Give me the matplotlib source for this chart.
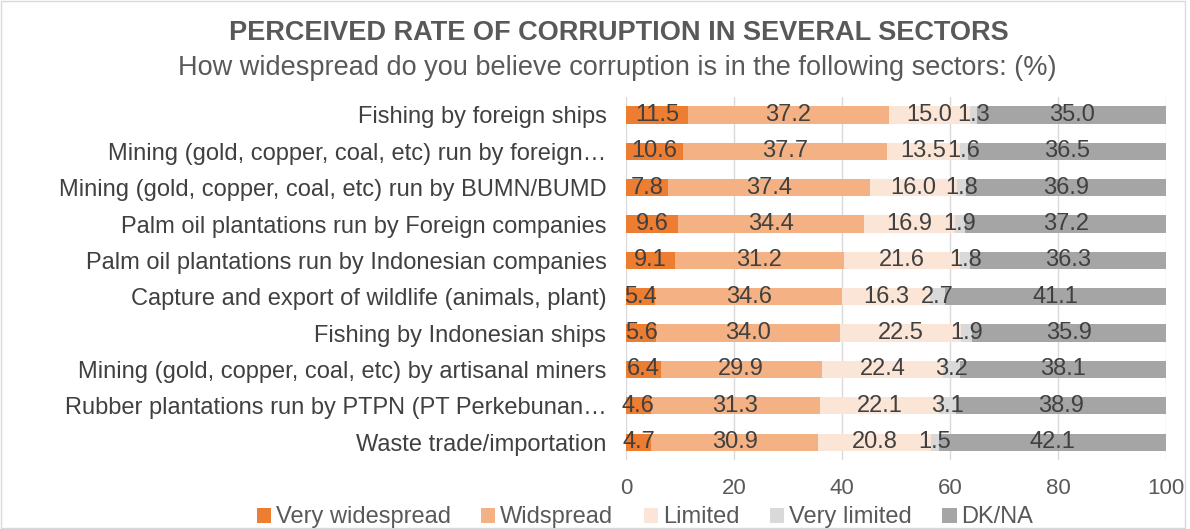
import numpy as np
import matplotlib.pyplot as plt
from matplotlib.patches import Rectangle

plt.rcParams['font.family'] = ['Liberation Sans', 'DejaVu Sans']

sectors = [
    'Fishing by foreign ships',
    'Mining (gold, copper, coal, etc) run by foreign\u2026',
    'Mining (gold, copper, coal, etc) run by BUMN/BUMD',
    'Palm oil plantations run by Foreign companies',
    'Palm oil plantations run by Indonesian companies',
    'Capture and export of wildlife (animals, plant)',
    'Fishing by Indonesian ships',
    'Mining (gold, copper, coal, etc) by artisanal miners',
    'Rubber plantations run by PTPN (PT Perkebunan\u2026',
    'Waste trade/importation',
]
very_widespread = [11.5, 10.6, 7.8, 9.6, 9.1, 5.4, 5.6, 6.4, 4.6, 4.7]
widspread = [37.2, 37.7, 37.4, 34.4, 31.2, 34.6, 34.0, 29.9, 31.3, 30.9]
limited = [15.0, 13.5, 16.0, 16.9, 21.6, 16.3, 22.5, 22.4, 22.1, 20.8]
very_limited = [1.3, 1.6, 1.8, 1.9, 1.8, 2.7, 1.9, 3.2, 3.1, 1.5]
dk_na = [35.0, 36.5, 36.9, 37.2, 36.3, 41.1, 35.9, 38.1, 38.9, 42.1]

series = [
    ('Very widespread', very_widespread, '#ED7D31'),
    ('Widspread', widspread, '#F4B183'),
    ('Limited', limited, '#FBE5D6'),
    ('Very limited', very_limited, '#D9D9D9'),
    ('DK/NA', dk_na, '#A5A5A5'),
]

txt = '#404040'
fig = plt.figure(figsize=(11.9, 5.29), dpi=100)
ax = fig.add_axes([0.526, 0.130, 0.454, 0.687])

y = np.arange(len(sectors))
left = np.zeros(len(sectors))
for name, vals, col in series:
    vals = np.array(vals)
    bars = ax.barh(y, vals, left=left, height=0.47, color=col, label=name, zorder=2)
    for b, v, l in zip(bars, vals, left):
        ax.text(l + v / 2, b.get_y() + b.get_height() / 2, '%.1f' % v,
                ha='center', va='center', fontsize=17, color=txt, zorder=3)
    left += vals

ax.set_ylim(len(sectors) - 0.5, -0.5)
ax.set_xlim(0, 100)
ax.set_xticks(range(0, 101, 20))
ax.set_yticks(y)
ax.set_yticklabels(sectors, fontsize=17, color=txt)
ax.tick_params(axis='x', labelsize=16, labelcolor='#595959', length=0, pad=13)
ax.tick_params(axis='y', length=0, pad=14)
ax.grid(axis='x', color='#D9D9D9', lw=1, zorder=0)
for s in ax.spines.values():
    s.set_visible(False)

fig.text(0.52, 0.938, 'PERCEIVED RATE OF CORRUPTION IN SEVERAL SECTORS',
         ha='center', va='center', fontsize=19.5, fontweight='bold', color='#595959')
fig.text(0.519, 0.872, 'How widespread do you believe corruption is in the following sectors: (%)',
         ha='center', va='center', fontsize=19.5, color='#595959')

fig.legend(loc='center', bbox_to_anchor=(0.542, 0.022), ncol=5, frameon=False,
           fontsize=17, handlelength=0.6, handleheight=0.6, handletextpad=0.2,
           columnspacing=1.3, labelcolor='#595959')

fig.patches.append(Rectangle((0.001, 0.001), 0.995, 0.998, transform=fig.transFigure,
                             fill=False, edgecolor='#D9D9D9', lw=1))

fig.savefig('out.png', dpi=100)
